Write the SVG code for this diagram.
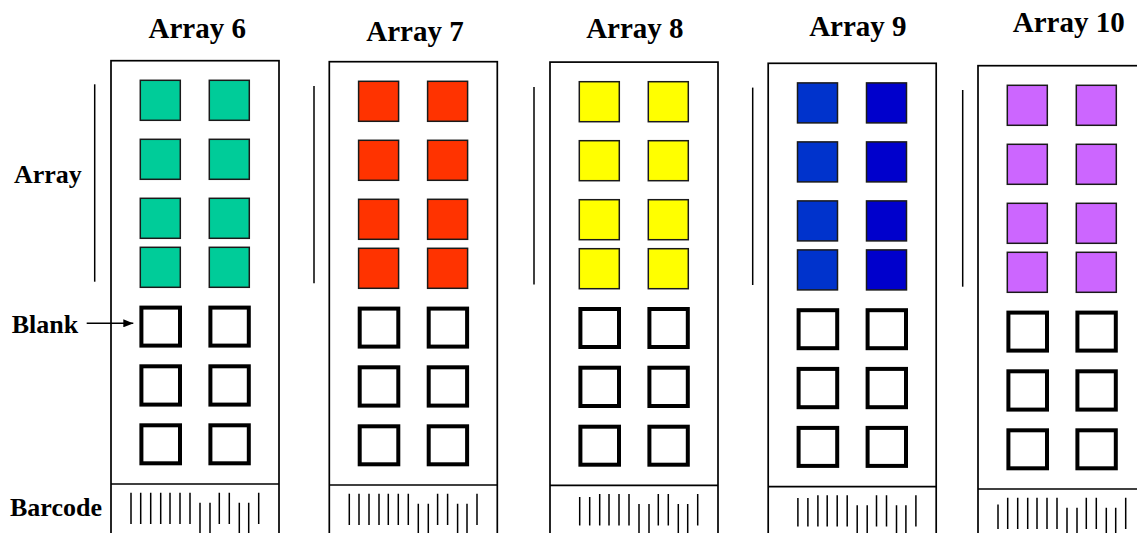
<svg xmlns="http://www.w3.org/2000/svg" width="1137" height="533" viewBox="0 0 1137 533">
<style>
.frame{fill:#fff;stroke:#000;stroke-width:1.7}
.div{stroke:#000;stroke-width:1.7}
.sq{stroke:#1a1a1a;stroke-width:1.5}
.blank{fill:#fff;stroke:#000;stroke-width:4}
.bar{stroke:#000;stroke-width:1.5;fill:none}
.brk{stroke:#000;stroke-width:1.5}
.title{font-family:"Liberation Serif","Times New Roman",serif;font-weight:bold;font-size:29px;text-anchor:middle;fill:#000}
.lbl{font-family:"Liberation Serif","Times New Roman",serif;font-weight:bold;font-size:26px;fill:#000}
.conn{stroke:#000;stroke-width:1.5;fill:none}
</style>
<defs>
<marker id="ah" markerUnits="userSpaceOnUse" markerWidth="10" markerHeight="8" refX="10" refY="4" orient="auto">
<path d="M0,0 L10,4 L0,8 z" fill="#000"/>
</marker>
</defs>
<rect width="1137" height="533" fill="#fff"/>

<text class="title" x="197.2" y="37.7">Array 6</text>
<text class="title" x="415" y="40.5">Array 7</text>
<text class="title" x="634.9" y="37.8">Array 8</text>
<text class="title" x="857.9" y="35.5">Array 9</text>
<text class="title" x="1068.7" y="32">Array 10</text>

<text class="lbl" x="14" y="183.3">Array</text>
<text class="lbl" x="11.7" y="332.7">Blank</text>
<text class="lbl" x="10" y="515.5">Barcode</text>

<g id="array6">
<line class="brk" x1="94.7" y1="84.3" x2="94.7" y2="281.7"/>
<rect class="frame" x="111" y="60.7" width="168" height="480"/>
<line class="div" x1="111" y1="484" x2="279" y2="484"/>
<g fill="#00CC99">
<rect class="sq" x="140.3" y="80.3" width="40" height="40"/><rect class="sq" x="209.3" y="80.3" width="40" height="40"/>
<rect class="sq" x="140.3" y="139.3" width="40" height="40"/><rect class="sq" x="209.3" y="139.3" width="40" height="40"/>
<rect class="sq" x="140.3" y="198.3" width="40" height="40"/><rect class="sq" x="209.3" y="198.3" width="40" height="40"/>
<rect class="sq" x="140.3" y="247.3" width="40" height="40"/><rect class="sq" x="209.3" y="247.3" width="40" height="40"/>
</g>
<rect class="blank" x="141.4" y="307.6" width="38.6" height="38"/><rect class="blank" x="210.4" y="307.6" width="38.4" height="38"/>
<rect class="blank" x="141.4" y="366.3" width="38.6" height="38.3"/><rect class="blank" x="210.4" y="366.3" width="38.4" height="38.3"/>
<rect class="blank" x="141.4" y="425.3" width="38.6" height="38"/><rect class="blank" x="210.4" y="425.3" width="38.4" height="38"/>
<path class="bar" d="M131 492.7V524M140.7 492.7V524M150.7 492.7V524M160.7 492.7V524M170 492.7V524M180 492.7V524M190 492.7V524M200 502.7V540M210 502.7V540M219.3 492.7V524M229.3 492.7V524M239.3 502.7V540M248.7 502.7V540M258.7 492.7V524"/>
</g>

<g id="array7" transform="translate(218.3,1)">
<line class="brk" x1="95.7" y1="85" x2="95.7" y2="282.3"/>
<rect class="frame" x="111" y="60.7" width="168" height="480"/>
<line class="div" x1="111" y1="484" x2="279" y2="484"/>
<g fill="#FF3300">
<rect class="sq" x="140.3" y="80.3" width="40" height="40"/><rect class="sq" x="209.3" y="80.3" width="40" height="40"/>
<rect class="sq" x="140.3" y="139.3" width="40" height="40"/><rect class="sq" x="209.3" y="139.3" width="40" height="40"/>
<rect class="sq" x="140.3" y="198.3" width="40" height="40"/><rect class="sq" x="209.3" y="198.3" width="40" height="40"/>
<rect class="sq" x="140.3" y="247.3" width="40" height="40"/><rect class="sq" x="209.3" y="247.3" width="40" height="40"/>
</g>
<rect class="blank" x="141.4" y="307.6" width="38.6" height="38"/><rect class="blank" x="210.4" y="307.6" width="38.4" height="38"/>
<rect class="blank" x="141.4" y="366.3" width="38.6" height="38.3"/><rect class="blank" x="210.4" y="366.3" width="38.4" height="38.3"/>
<rect class="blank" x="141.4" y="425.3" width="38.6" height="38"/><rect class="blank" x="210.4" y="425.3" width="38.4" height="38"/>
<path class="bar" d="M131 492.7V524M140.7 492.7V524M150.7 492.7V524M160.7 492.7V524M170 492.7V524M180 492.7V524M190 492.7V524M200 502.7V540M210 502.7V540M219.3 492.7V524M229.3 492.7V524M239.3 502.7V540M248.7 502.7V540M258.7 492.7V524"/>
</g>

<g id="array8" transform="translate(439,1.4)">
<line class="brk" x1="95" y1="85.5" x2="95" y2="283"/>
<rect class="frame" x="111" y="60.7" width="168" height="480"/>
<line class="div" x1="111" y1="484" x2="279" y2="484"/>
<g fill="#FFFF00">
<rect class="sq" x="140.3" y="80.3" width="40" height="40"/><rect class="sq" x="209.3" y="80.3" width="40" height="40"/>
<rect class="sq" x="140.3" y="139.3" width="40" height="40"/><rect class="sq" x="209.3" y="139.3" width="40" height="40"/>
<rect class="sq" x="140.3" y="198.3" width="40" height="40"/><rect class="sq" x="209.3" y="198.3" width="40" height="40"/>
<rect class="sq" x="140.3" y="247.3" width="40" height="40"/><rect class="sq" x="209.3" y="247.3" width="40" height="40"/>
</g>
<rect class="blank" x="141.4" y="307.6" width="38.6" height="38"/><rect class="blank" x="210.4" y="307.6" width="38.4" height="38"/>
<rect class="blank" x="141.4" y="366.3" width="38.6" height="38.3"/><rect class="blank" x="210.4" y="366.3" width="38.4" height="38.3"/>
<rect class="blank" x="141.4" y="425.3" width="38.6" height="38"/><rect class="blank" x="210.4" y="425.3" width="38.4" height="38"/>
<path class="bar" d="M140.7 495.5V524M150.7 495.5V524M160.7 492.7V524M170 492.7V524M180 492.7V524M190 492.7V524M200 502.7V540M210 502.7V540M219.3 492.7V524M229.3 492.7V524M239.3 502.7V540M248.7 502.7V540M258.7 492.7V524"/>
</g>

<g id="array9" transform="translate(657.2,2.6)">
<line class="brk" x1="95.5" y1="85" x2="95.5" y2="282.4"/>
<rect class="frame" x="111" y="60.7" width="168" height="480"/>
<line class="div" x1="111" y1="484" x2="279" y2="484"/>
<rect class="sq" fill="#0033CC" x="140.3" y="80.3" width="40" height="40"/><rect class="sq" fill="#0000CC" x="209.3" y="80.3" width="40" height="40"/>
<rect class="sq" fill="#0033CC" x="140.3" y="139.3" width="40" height="40"/><rect class="sq" fill="#0000CC" x="209.3" y="139.3" width="40" height="40"/>
<rect class="sq" fill="#0033CC" x="140.3" y="198.3" width="40" height="40"/><rect class="sq" fill="#0000CC" x="209.3" y="198.3" width="40" height="40"/>
<rect class="sq" fill="#0033CC" x="140.3" y="247.3" width="40" height="40"/><rect class="sq" fill="#0000CC" x="209.3" y="247.3" width="40" height="40"/>
<rect class="blank" x="141.4" y="307.6" width="38.6" height="38"/><rect class="blank" x="210.4" y="307.6" width="38.4" height="38"/>
<rect class="blank" x="141.4" y="366.3" width="38.6" height="38.3"/><rect class="blank" x="210.4" y="366.3" width="38.4" height="38.3"/>
<rect class="blank" x="141.4" y="425.3" width="38.6" height="38"/><rect class="blank" x="210.4" y="425.3" width="38.4" height="38"/>
<path class="bar" d="M140.7 495.5V524M150.7 495.5V524M160.7 492.7V524M170 492.7V524M180 492.7V524M190 492.7V524M200 502.7V540M210 502.7V540M219.3 492.7V524M229.3 492.7V524M239.3 502.7V540M248.7 502.7V540M258.7 492.7V524"/>
</g>

<g id="array10" transform="translate(867,5)">
<line class="brk" x1="95.7" y1="85" x2="95.7" y2="281.7"/>
<rect class="frame" x="111" y="60.7" width="168" height="480"/>
<line class="div" x1="111" y1="484" x2="279" y2="484"/>
<g fill="#CC66FF">
<rect class="sq" x="140.3" y="80.3" width="40" height="40"/><rect class="sq" x="209.3" y="80.3" width="40" height="40"/>
<rect class="sq" x="140.3" y="139.3" width="40" height="40"/><rect class="sq" x="209.3" y="139.3" width="40" height="40"/>
<rect class="sq" x="140.3" y="198.3" width="40" height="40"/><rect class="sq" x="209.3" y="198.3" width="40" height="40"/>
<rect class="sq" x="140.3" y="247.3" width="40" height="40"/><rect class="sq" x="209.3" y="247.3" width="40" height="40"/>
</g>
<rect class="blank" x="141.4" y="307.6" width="38.6" height="38"/><rect class="blank" x="210.4" y="307.6" width="38.4" height="38"/>
<rect class="blank" x="141.4" y="366.3" width="38.6" height="38.3"/><rect class="blank" x="210.4" y="366.3" width="38.4" height="38.3"/>
<rect class="blank" x="141.4" y="425.3" width="38.6" height="38"/><rect class="blank" x="210.4" y="425.3" width="38.4" height="38"/>
<path class="bar" d="M131 499.5V524M140.7 492.7V524M150.7 492.7V524M160.7 492.7V524M170 492.7V524M180 492.7V524M190 492.7V524M200 502.7V540M210 502.7V540M219.3 492.7V524M229.3 492.7V524M239.3 502.7V540M248.7 502.7V540M258.7 492.7V524"/>
</g>

<g id="connectors">
<line class="conn" x1="86.7" y1="323.3" x2="133.3" y2="323.3" marker-end="url(#ah)"/>
</g>
</svg>
